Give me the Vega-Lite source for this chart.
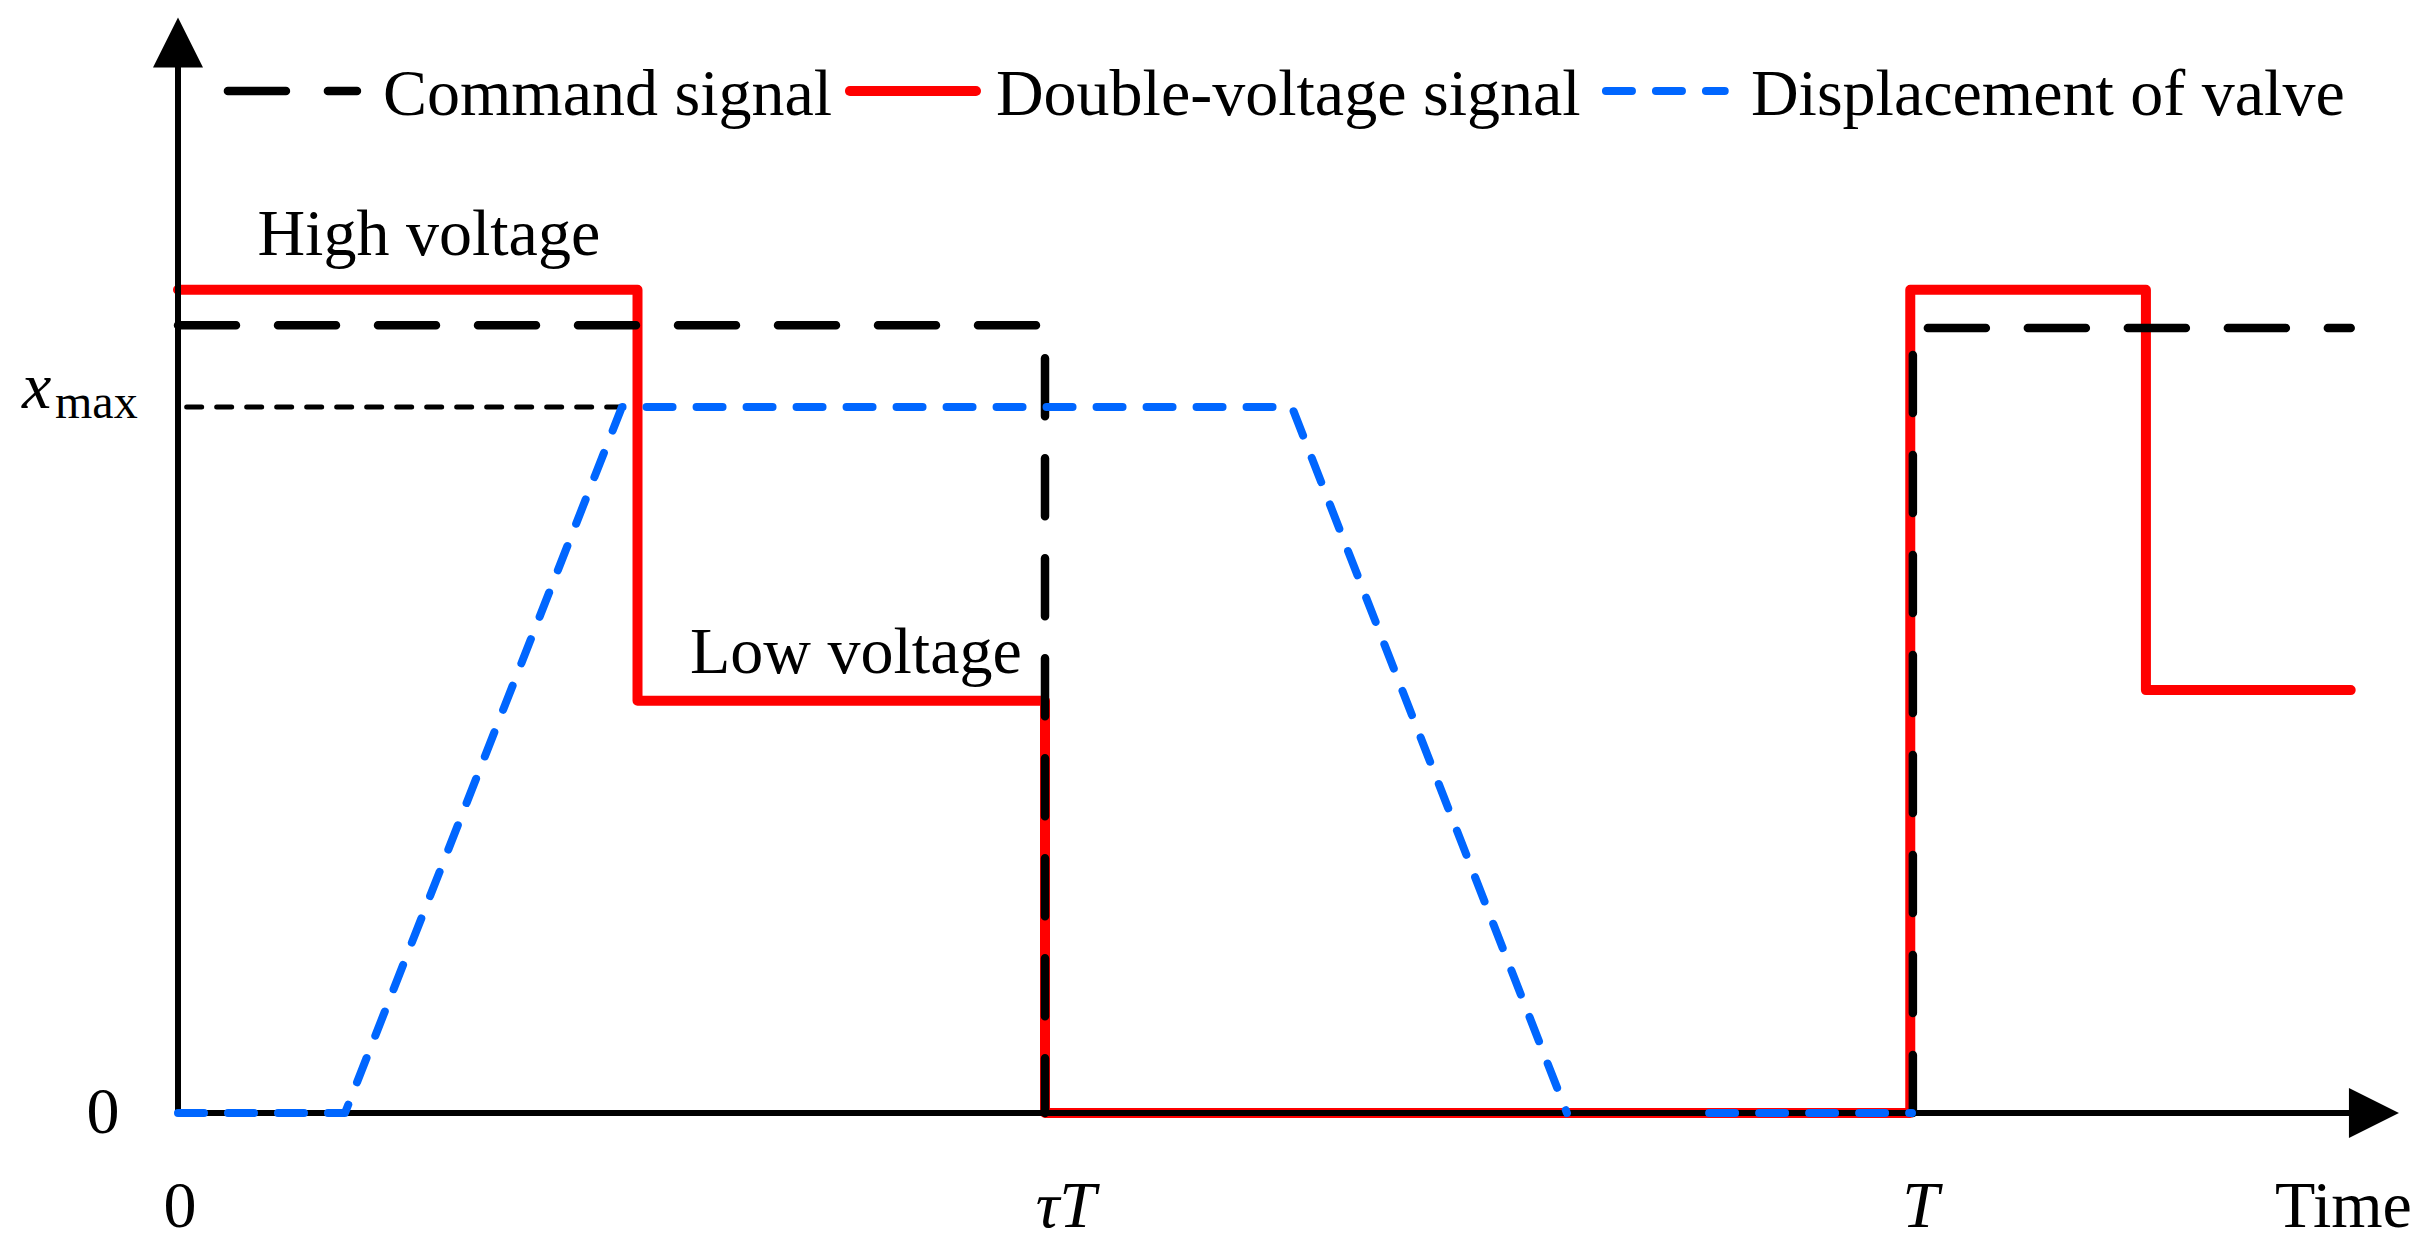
{
  "$schema": "https://vega.github.io/schema/vega-lite/v6.json",
  "width": 2427,
  "height": 1256,
  "padding": 0,
  "autosize": {"type": "none"},
  "background": "white",
  "config": {"view": {"stroke": null}},
  "datasets": {
    "red": [
      {"seg": "a", "o": 1, "x": 0, "y": 1.166},
      {"seg": "a", "o": 2, "x": 2.65, "y": 1.166},
      {"seg": "a", "o": 3, "x": 2.65, "y": 0.584},
      {"seg": "a", "o": 4, "x": 5, "y": 0.584},
      {"seg": "a", "o": 5, "x": 5, "y": 0},
      {"seg": "a", "o": 6, "x": 9.99, "y": 0},
      {"seg": "a", "o": 7, "x": 9.99, "y": 1.166},
      {"seg": "a", "o": 8, "x": 11.349, "y": 1.166},
      {"seg": "a", "o": 9, "x": 11.349, "y": 0.599},
      {"seg": "a", "o": 10, "x": 12.53, "y": 0.599}
    ],
    "command": [
      {"seg": "a", "o": 1, "x": 0, "y": 1.1157},
      {"seg": "a", "o": 2, "x": 5, "y": 1.1157},
      {"seg": "a", "o": 3, "x": 5, "y": 0},
      {"seg": "b", "o": 4, "x": 10.005, "y": 0},
      {"seg": "b", "o": 5, "x": 10.005, "y": 1.1119},
      {"seg": "b", "o": 6, "x": 12.53, "y": 1.1119}
    ],
    "valve": [
      {"seg": "a", "o": 1, "x": 0, "y": 0},
      {"seg": "a", "o": 2, "x": 0.963, "y": 0},
      {"seg": "a", "o": 3, "x": 2.56, "y": 1},
      {"seg": "a", "o": 4, "x": 6.424, "y": 1},
      {"seg": "a", "o": 5, "x": 8.01, "y": 0},
      {"seg": "b", "o": 6, "x": 8.83, "y": 0},
      {"seg": "b", "o": 7, "x": 10.0, "y": 0}
    ],
    "xmax": [
      {"o": 1, "x": 0.05, "y": 1},
      {"o": 2, "x": 2.55, "y": 1}
    ],
    "axes": [
      {"x": 0, "y": 0, "x2": 0, "y2": 1.48},
      {"x": 0, "y": 0, "x2": 12.6, "y2": 0}
    ],
    "arrowUp": [{"x": 0, "y": 1.5163}],
    "arrowRight": [{"x": 12.664, "y": 0}],
    "legCommand": [{"o": 1, "x": 0.288, "y": 1.4476}, {"o": 2, "x": 1.032, "y": 1.4476}],
    "legRed": [{"o": 1, "x": 3.875, "y": 1.4476}, {"o": 2, "x": 4.602, "y": 1.4476}],
    "legBlue": [{"o": 1, "x": 8.235, "y": 1.4476}, {"o": 2, "x": 8.92, "y": 1.4476}],
    "textLeft": [
      {"label": "Command signal", "x": 1.182, "y": 1.4136},
      {"label": "Double-voltage signal", "x": 4.717, "y": 1.4136},
      {"label": "Displacement of valve", "x": 9.071, "y": 1.4136},
      {"label": "High voltage", "x": 0.458, "y": 1.2153},
      {"label": "Low voltage", "x": 2.953, "y": 0.6232},
      {"label": "Time", "x": 12.093, "y": -0.1615}
    ],
    "textCenter": [
      {"label": "0", "x": -0.4325, "y": -0.0283},
      {"label": "0", "x": 0.0115, "y": -0.1615}
    ],
    "textItalic": [
      {"label": "τT", "x": 5.12, "y": -0.1615},
      {"label": "T", "x": 10.05, "y": -0.1615}
    ],
    "textX": [{"label": "x", "x": -0.8997, "y": 0.9986}],
    "textSub": [{"label": "max", "x": -0.7093, "y": 0.9844}]
  },
  "encoding": {
    "x": {"field": "x", "type": "quantitative", "scale": {"domain": [-1.02653, 12.97001], "nice": false, "zero": false}, "axis": null},
    "y": {"field": "y", "type": "quantitative", "scale": {"domain": [-0.20255, 1.57649], "nice": false, "zero": false}, "axis": null}
  },
  "layer": [
    {
      "data": {"name": "red"},
      "mark": {"type": "line", "color": "#FF0000", "strokeWidth": 10, "strokeCap": "round", "strokeJoin": "round", "clip": false},
      "encoding": {"detail": {"field": "seg"}, "order": {"field": "o", "type": "quantitative"}}
    },
    {
      "data": {"name": "axes"},
      "mark": {"type": "rule", "color": "#000000", "strokeWidth": 6, "strokeCap": "square"},
      "encoding": {"x2": {"field": "x2"}, "y2": {"field": "y2"}}
    },
    {
      "data": {"name": "arrowUp"},
      "mark": {"type": "point", "shape": "M0,-1L1,1L-1,1Z", "size": 2500, "filled": true, "color": "#000000", "opacity": 1, "strokeWidth": 0}
    },
    {
      "data": {"name": "arrowRight"},
      "mark": {"type": "point", "shape": "M1,0L-1,-1L-1,1Z", "size": 2500, "filled": true, "color": "#000000", "opacity": 1, "strokeWidth": 0}
    },
    {
      "data": {"name": "command"},
      "mark": {"type": "line", "color": "#000000", "strokeWidth": 8.5, "strokeCap": "round", "strokeJoin": "round", "strokeDash": [58, 42]},
      "encoding": {"detail": {"field": "seg"}, "order": {"field": "o", "type": "quantitative"}}
    },
    {
      "data": {"name": "xmax"},
      "mark": {"type": "line", "color": "#000000", "strokeWidth": 5, "strokeCap": "round", "strokeDash": [15, 15]},
      "encoding": {"order": {"field": "o", "type": "quantitative"}}
    },
    {
      "data": {"name": "valve"},
      "mark": {"type": "line", "color": "#0066FF", "strokeWidth": 8, "strokeCap": "round", "strokeJoin": "round", "strokeDash": [26, 24]},
      "encoding": {"detail": {"field": "seg"}, "order": {"field": "o", "type": "quantitative"}}
    },
    {
      "data": {"name": "legCommand"},
      "mark": {"type": "line", "color": "#000000", "strokeWidth": 8.5, "strokeCap": "round", "strokeDash": [58, 42]},
      "encoding": {"order": {"field": "o", "type": "quantitative"}}
    },
    {
      "data": {"name": "legRed"},
      "mark": {"type": "line", "color": "#FF0000", "strokeWidth": 10, "strokeCap": "round"},
      "encoding": {"order": {"field": "o", "type": "quantitative"}}
    },
    {
      "data": {"name": "legBlue"},
      "mark": {"type": "line", "color": "#0066FF", "strokeWidth": 8, "strokeCap": "round", "strokeDash": [26, 24]},
      "encoding": {"order": {"field": "o", "type": "quantitative"}}
    },
    {
      "data": {"name": "textLeft"},
      "mark": {"type": "text", "font": "Liberation Serif", "fontSize": 66, "align": "left", "baseline": "alphabetic", "color": "#000000"},
      "encoding": {"text": {"field": "label"}}
    },
    {
      "data": {"name": "textCenter"},
      "mark": {"type": "text", "font": "Liberation Serif", "fontSize": 66, "align": "center", "baseline": "alphabetic", "color": "#000000"},
      "encoding": {"text": {"field": "label"}}
    },
    {
      "data": {"name": "textItalic"},
      "mark": {"type": "text", "font": "Liberation Serif", "fontSize": 66, "fontStyle": "italic", "align": "center", "baseline": "alphabetic", "color": "#000000"},
      "encoding": {"text": {"field": "label"}}
    },
    {
      "data": {"name": "textX"},
      "mark": {"type": "text", "font": "Liberation Serif", "fontSize": 66, "fontStyle": "italic", "align": "left", "baseline": "alphabetic", "color": "#000000"},
      "encoding": {"text": {"field": "label"}}
    },
    {
      "data": {"name": "textSub"},
      "mark": {"type": "text", "font": "Liberation Serif", "fontSize": 48, "align": "left", "baseline": "alphabetic", "color": "#000000"},
      "encoding": {"text": {"field": "label"}}
    }
  ]
}
